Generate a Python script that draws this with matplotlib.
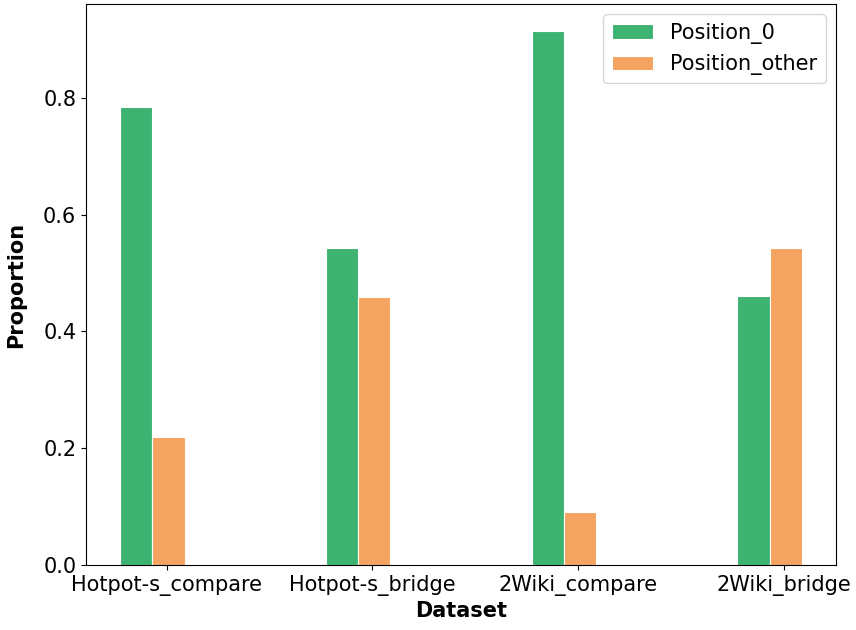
import matplotlib
matplotlib.use("Agg")
import matplotlib.pyplot as plt
import numpy as np

datasets = ["Hotpot-s_compare", "Hotpot-s_bridge", "2Wiki_compare", "2Wiki_bridge"]
position_0 = [0.784, 0.543, 0.915, 0.461]
position_other = [0.220, 0.459, 0.091, 0.543]

x = np.arange(len(datasets))
width = 0.157

fig, ax = plt.subplots(figsize=(8.56, 6.3), dpi=100)
fig.subplots_adjust(left=0.1005, right=0.9766, bottom=0.1032, top=0.9937)

ax.bar(x - 0.148, position_0, width, label="Position_0", color="#3CB371", edgecolor="white", linewidth=0.8)
ax.bar(x + 0.009, position_other, width, label="Position_other", color="#F4A460", edgecolor="white", linewidth=0.8)

ax.set_xticks(x)
ax.set_xticklabels(datasets, fontsize=15)
ax.tick_params(axis="y", labelsize=15)
ax.set_xlabel("Dataset", fontsize=15, fontweight="bold")
ax.set_ylabel("Proportion", fontsize=15, fontweight="bold", labelpad=12)
ax.legend(fontsize=15, loc="upper right")

fig.savefig("out.png", dpi=100)
